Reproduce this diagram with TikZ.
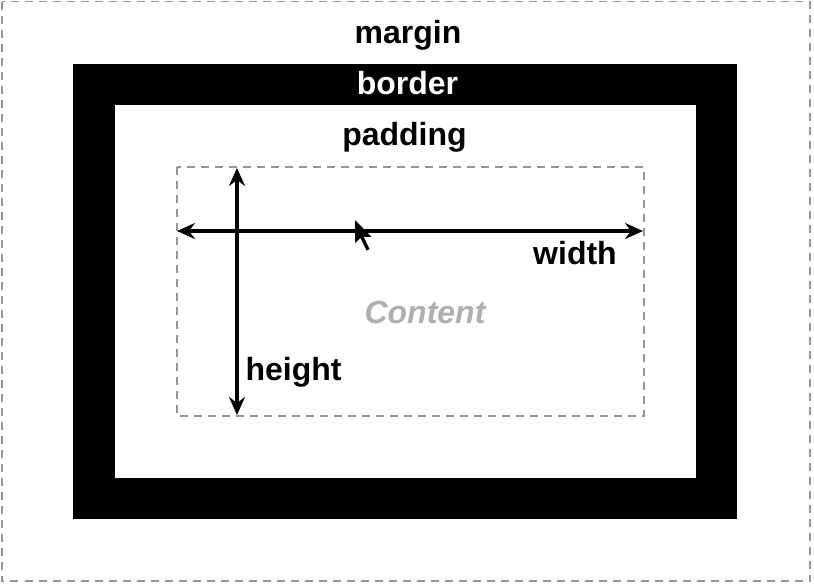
\documentclass[tikz,border=0pt]{standalone}
\usepackage{fontspec}
\setmainfont{Liberation Sans}
\usetikzlibrary{arrows.meta}
\definecolor{dashgray}{RGB}{150,150,150}
\definecolor{contentgray}{RGB}{175,175,175}
\tikzset{
  lbl/.style={font=\fontsize{32}{32}\selectfont\bfseries, inner sep=0pt, anchor=base},
  dim/.style={line width=3.2pt, {Stealth[length=18pt,width=16pt,inset=6pt]}-{Stealth[length=18pt,width=16pt,inset=6pt]}},
  dashframe/.style={draw=dashgray, line width=2pt, dash pattern=on 8pt off 6pt}
}
\begin{document}
\begin{tikzpicture}[x=1pt,y=-1pt]
\useasboundingbox (0,0) rectangle (814,584);
\fill[white] (0,0) rectangle (814,584);
\draw[dashframe, line width=1.6pt] (2,1.5) rectangle (810,581);
% border
\fill[black] (73,64) rectangle (737,519);
\fill[white] (115,105) rectangle (696,478);
% content box
\draw[dashframe] (177,167) rectangle (644,416);
% labels
\node[lbl] (margin) at (408,43) {margin};
\node[lbl, text=white] (border) at (407.5,94) {border};
\node[lbl] (padding) at (404.5,145) {padding};
\node[lbl] (width) at (575,264) {width};
\node[lbl] (height) at (293.5,380) {height};
\node[lbl, text=contentgray, font=\fontsize{32}{32}\selectfont\bfseries\itshape] (content) at (425,323) {Content};
% dimension arrows
\coordinate (wl) at (177,231);
\coordinate (wr) at (643,231);
\coordinate (ht) at (237,168);
\coordinate (hb) at (237,415);
\draw[dim] (wl) -- (wr);
\draw[dim] (ht) -- (hb);
% mouse pointer
\coordinate (cur) at (355,220);
\fill[black] (cur) -- ++(0,23) -- ++(5.5,-5) -- ++(6,12.5) -- ++(3,-1.4) -- ++(-5.8,-12.3) -- ++(7.6,0) -- cycle;
\end{tikzpicture}
\end{document}
